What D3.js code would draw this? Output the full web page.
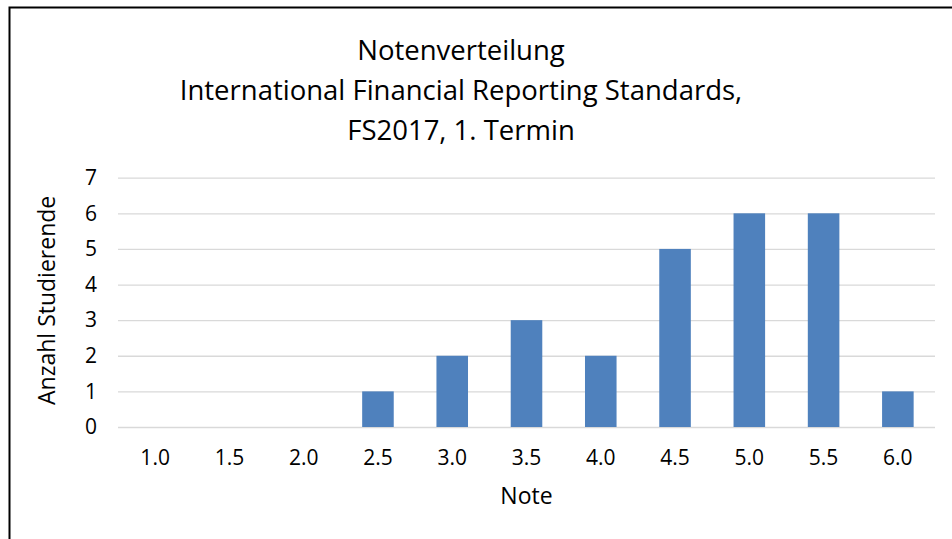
<!DOCTYPE html>
<html>
<head>
<meta charset="utf-8">
<script src="https://cdn.jsdelivr.net/npm/d3@7"></script>
<style>
  body { margin: 0; background: #fff; }
  text { font-family: "Open Sans", "Noto Sans", sans-serif; fill: #000; }
</style>
</head>
<body>
<svg id="chart"></svg>
<script>
var titleLines = ["Notenverteilung", "International Financial Reporting Standards,", "FS2017, 1. Termin"];
var notes = ["1.0", "1.5", "2.0", "2.5", "3.0", "3.5", "4.0", "4.5", "5.0", "5.5", "6.0"];
var counts = [0, 0, 0, 1, 2, 3, 2, 5, 6, 6, 1];
var yTicks = [0, 1, 2, 3, 4, 5, 6, 7];

var width = 952, height = 539;
var margin = { top: 177.7, right: 17, bottom: 112, left: 118 };
var w = width - margin.left - margin.right,
    h = height - margin.top - margin.bottom;

var svg = d3.select("#chart")
  .attr("width", width)
  .attr("height", height);

// outer frame
svg.append("rect")
  .attr("x", 9.5).attr("y", 7.5)
  .attr("width", 960).attr("height", 560)
  .attr("fill", "none")
  .attr("stroke", "#000")
  .attr("stroke-width", 2);

var title = svg.append("text")
  .attr("text-anchor", "middle")
  .style("font-size", "27.5px");
titleLines.forEach(function (t, i) {
  title.append("tspan")
    .attr("x", 461)
    .attr("y", 60 + i * 40)
    .text(t);
});

var g = svg.append("g")
  .attr("transform", "translate(" + margin.left + "," + margin.top + ")");

var x = d3.scaleBand()
  .domain(notes)
  .range([0, w])
  .paddingInner(0.575)
  .paddingOuter(0.2875);

var y = d3.scaleLinear()
  .domain([0, 7])
  .range([h, 0]);

// gridlines
g.append("g")
  .call(d3.axisLeft(y).tickValues(yTicks).tickSize(-w).tickFormat(""))
  .call(function (s) { s.select(".domain").remove(); })
  .selectAll("line")
  .attr("stroke", "#d9d9d9")
  .attr("stroke-width", 1.3);

// y labels
var yAxis = g.append("g")
  .call(d3.axisLeft(y).tickValues(yTicks).tickSize(0).tickPadding(21).tickFormat(d3.format("d")));
yAxis.select(".domain").remove();
yAxis.selectAll("text").style("font-size", "21px").attr("fill", "#000");

// x labels
var xAxis = g.append("g")
  .attr("transform", "translate(0," + h + ")")
  .call(d3.axisBottom(x).tickSize(0).tickPadding(23));
xAxis.select(".domain").remove();
xAxis.selectAll("text").style("font-size", "21px").attr("fill", "#000");

// bars
g.selectAll("rect.bar")
  .data(counts)
  .enter()
  .append("rect")
  .attr("class", "bar")
  .attr("x", function (d, i) { return x(notes[i]); })
  .attr("y", function (d) { return y(d); })
  .attr("width", x.bandwidth())
  .attr("height", function (d) { return h - y(d); })
  .attr("fill", "#4f81bd");

svg.append("text")
  .attr("x", margin.left + w / 2)
  .attr("y", 504)
  .attr("text-anchor", "middle")
  .style("font-size", "23px")
  .text("Note");

svg.append("text")
  .attr("transform", "translate(55," + (margin.top + h / 2 - 2) + ") rotate(-90)")
  .attr("text-anchor", "middle")
  .style("font-size", "23px")
  .text("Anzahl Studierende");
</script>
</body>
</html>
